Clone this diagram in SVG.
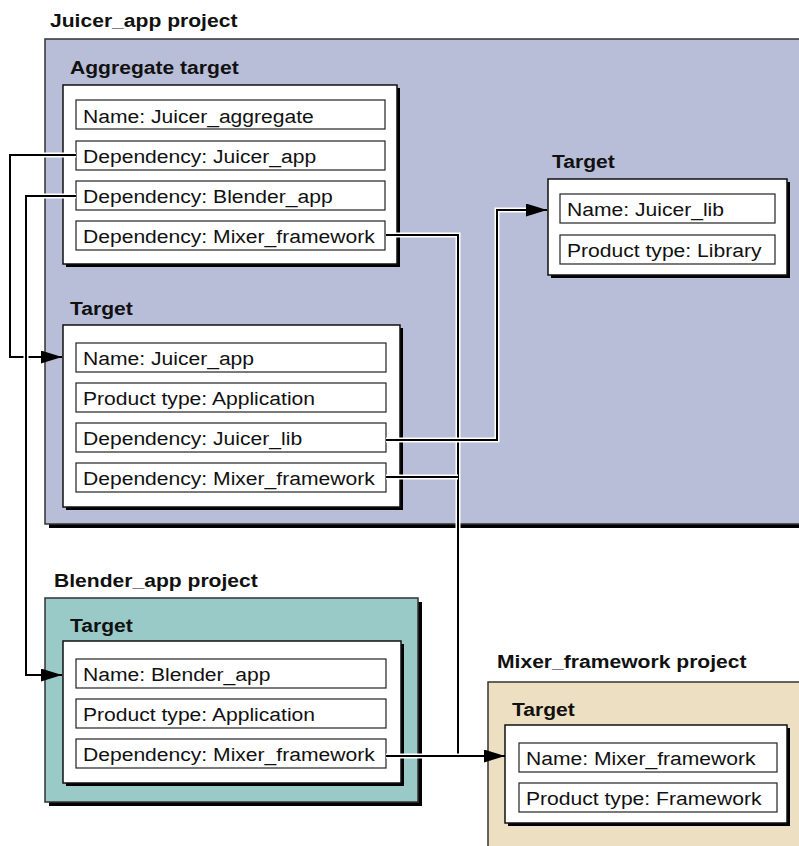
<svg xmlns="http://www.w3.org/2000/svg" width="799" height="846" viewBox="0 0 799 846">
<style>
.t{font-family:"Liberation Sans",Arial,Helvetica,sans-serif;font-size:19px;fill:#111}
.b{font-weight:bold}
.row{fill:#fff;stroke:#222;stroke-width:1.2}
.box{fill:#fff;stroke:#111;stroke-width:1.5}
.sh{fill:#000}
.halo{fill:none;stroke:#fff;stroke-width:5}
.wire{fill:none;stroke:#000;stroke-width:2}
</style>
<defs>
<marker id="arr" markerUnits="userSpaceOnUse" markerWidth="22" markerHeight="14" refX="21" refY="6.5" orient="auto">
<path d="M0,0 L21,6.5 L0,13 z" fill="#000"/>
</marker>
</defs>

<g id="juicer-project">
<rect class="sh" x="49" y="43" width="780" height="485"/>
<rect x="45" y="39" width="780" height="485" fill="#B8BDD8" stroke="#333" stroke-width="1.5"/>
<text class="t b" transform="translate(50,27) scale(1.11 1)">Juicer_app project</text>
</g>

<g id="aggregate-target">
<text class="t b" transform="translate(70,74) scale(1.11 1)">Aggregate target</text>
<rect class="sh" x="66" y="88" width="334" height="179"/>
<rect class="box" x="63" y="85" width="334" height="179"/>
<rect class="row" x="76" y="100" width="309" height="29"/>
<text class="t" transform="translate(83,123) scale(1.11 1)">Name: Juicer_aggregate</text>
<rect class="row" x="76" y="141" width="309" height="29"/>
<text class="t" transform="translate(83,163) scale(1.11 1)">Dependency: Juicer_app</text>
<rect class="row" x="76" y="181" width="309" height="29"/>
<text class="t" transform="translate(83,203) scale(1.11 1)">Dependency: Blender_app</text>
<rect class="row" x="76" y="221" width="309" height="29"/>
<text class="t" transform="translate(83,243) scale(1.11 1)">Dependency: Mixer_framework</text>
</g>

<g id="juicer-app-target">
<text class="t b" transform="translate(70,315) scale(1.11 1)">Target</text>
<rect class="sh" x="66" y="328" width="337" height="182"/>
<rect class="box" x="63" y="325" width="337" height="182"/>
<rect class="row" x="76" y="343" width="310" height="29"/>
<text class="t" transform="translate(83,365) scale(1.11 1)">Name: Juicer_app</text>
<rect class="row" x="76" y="383" width="310" height="29"/>
<text class="t" transform="translate(83,405) scale(1.11 1)">Product type: Application</text>
<rect class="row" x="76" y="423" width="310" height="29"/>
<text class="t" transform="translate(83,445) scale(1.11 1)">Dependency: Juicer_lib</text>
<rect class="row" x="76" y="463" width="310" height="29"/>
<text class="t" transform="translate(83,485) scale(1.11 1)">Dependency: Mixer_framework</text>
</g>

<g id="juicer-lib-target">
<text class="t b" transform="translate(552,168) scale(1.11 1)">Target</text>
<rect class="sh" x="551" y="182" width="239" height="96"/>
<rect class="box" x="548" y="179" width="239" height="96"/>
<rect class="row" x="560" y="194" width="215" height="29"/>
<text class="t" transform="translate(567,216) scale(1.11 1)">Name: Juicer_lib</text>
<rect class="row" x="560" y="235" width="215" height="29"/>
<text class="t" transform="translate(567,257) scale(1.11 1)">Product type: Library</text>
</g>

<g id="blender-project">
<text class="t b" transform="translate(54,587) scale(1.11 1)">Blender_app project</text>
<rect class="sh" x="49" y="602" width="373" height="204"/>
<rect x="45" y="598" width="373" height="204" fill="#99CAC7" stroke="#333" stroke-width="1.5"/>
</g>

<g id="blender-app-target">
<text class="t b" transform="translate(70,632) scale(1.11 1)">Target</text>
<rect class="sh" x="66" y="644" width="338" height="142"/>
<rect class="box" x="63" y="641" width="338" height="142"/>
<rect class="row" x="76" y="659" width="310" height="29"/>
<text class="t" transform="translate(83,681) scale(1.11 1)">Name: Blender_app</text>
<rect class="row" x="76" y="699" width="310" height="29"/>
<text class="t" transform="translate(83,721) scale(1.11 1)">Product type: Application</text>
<rect class="row" x="76" y="739" width="310" height="29"/>
<text class="t" transform="translate(83,761) scale(1.11 1)">Dependency: Mixer_framework</text>
</g>

<g id="mixer-project">
<text class="t b" transform="translate(497,668) scale(1.11 1)">Mixer_framework project</text>
<rect x="488" y="682" width="340" height="200" fill="#EDE0C2" stroke="#333" stroke-width="1.5"/>
</g>

<g id="mixer-framework-target">
<text class="t b" transform="translate(512,716) scale(1.11 1)">Target</text>
<rect class="sh" x="508" y="728" width="282" height="98"/>
<rect class="box" x="505" y="725" width="282" height="98"/>
<rect class="row" x="519" y="743" width="258" height="29"/>
<text class="t" transform="translate(526,765) scale(1.11 1)">Name: Mixer_framework</text>
<rect class="row" x="519" y="783" width="258" height="29"/>
<text class="t" transform="translate(526,805) scale(1.11 1)">Product type: Framework</text>
</g>

<g id="connectors">
<path class="halo" d="M386,235 H458 V756"/>
<path class="wire" d="M386,235 H458 V756"/>
<path class="halo" d="M386,477 H458"/>
<path class="wire" d="M386,477 H458"/>
<path class="halo" d="M386,756 H486"/>
<path class="wire" d="M386,756 H505" marker-end="url(#arr)"/>
<path class="halo" d="M386,440 H497 V210 H527"/>
<path class="wire" d="M386,440 H497 V210 H547" marker-end="url(#arr)"/>
<path class="halo" d="M76,155 H10 V357 H42"/>
<path class="wire" d="M76,155 H10 V357 H62" marker-end="url(#arr)"/>
<path class="halo" d="M76,196 H26 V675 H42"/>
<path class="wire" d="M76,196 H26 V675 H62" marker-end="url(#arr)"/>
</g>
</svg>
